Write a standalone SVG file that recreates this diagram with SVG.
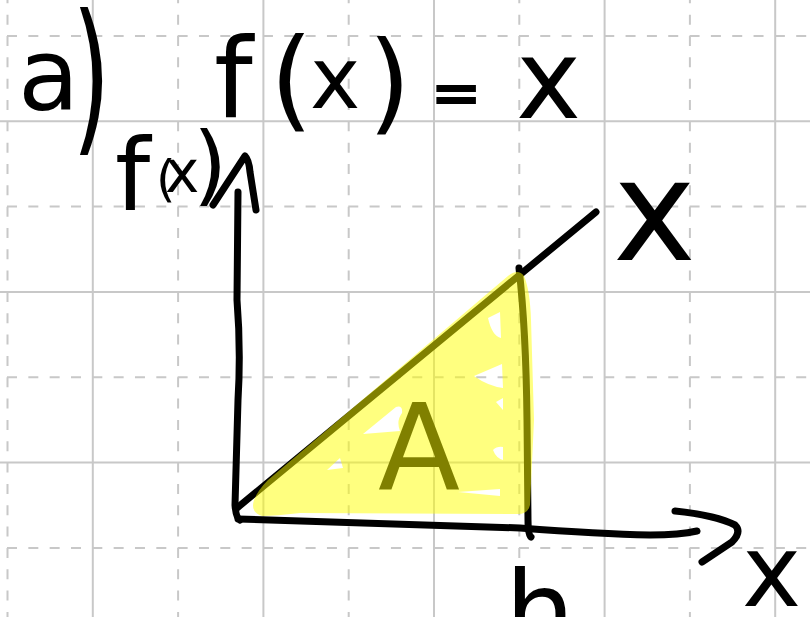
<svg xmlns="http://www.w3.org/2000/svg" width="810" height="617" viewBox="0 0 810 617">
<style>
.gs{stroke:#c8c8c8;stroke-width:2;fill:none}
.gdv{stroke:#c8c8c8;stroke-width:2;fill:none;stroke-dasharray:10 11.33;stroke-dashoffset:6.67}
.gdh{stroke:#c8c8c8;stroke-width:2;fill:none;stroke-dasharray:10 11.33;stroke-dashoffset:14.33}
.ink{stroke:#000;stroke-width:7;fill:none;stroke-linecap:round;stroke-linejoin:round}
.hw{font-family:"DejaVu Sans","Liberation Sans",sans-serif;fill:#000}
.hl{fill:#ffff00;fill-opacity:0.5;fill-rule:evenodd}
</style>
<rect width="810" height="617" fill="#fff"/>
<g id="grid">
<path class="gs" d="M92.8,0V617M263.4,0V617M434,0V617M604.6,0V617M775.2,0V617M0,121.3H810M0,292H810M0,462.6H810"/>
<path class="gdv" d="M7.5,0V617M178.1,0V617M348.7,0V617M519.3,0V617M689.9,0V617"/>
<path class="gdh" d="M0,36H810M0,206.6H810M0,377.3H810M0,548H810"/>
</g>
<g id="under-highlight">
<path class="ink" d="M237,508 L596,212"/>
<path class="ink" d="M519,268 Q526,330 527,420 L528,520 Q528,535 531,537"/>
<text id="label-A" class="hw" x="378" y="489" font-size="120">A</text>
</g>
<path id="highlight" class="hl" d="M262,516 Q250,512 254,500 Q258,490 268,480 L508,276 Q518,268 524,276 Q530,290 531,320 L534,420 L530,505 Q528,514 518,514 L300,513 Q275,516 262,516 Z
M488,318 L500,312 L501,338 Q492,336 488,318 Z
M474,376 L502,364 L503,388 Q488,386 474,376 Z
M496,402 L503,398 L503,410 Z
M493,450 Q497,446 503,447 L503,460 Q496,458 493,450 Z
M458,492 L500,489 L500,496 Z
M363,434 L396,407 Q403,405 402,413 Q396,421 400,431 Z
M327,470 L340,458 L343,468 Z"/>
<g id="axes">
<path class="ink" d="M238,192 L237,300 Q241,350 238,400 L235,505 Q236,518 240,520"/>
<path class="ink" d="M213,205 L245,156 Q249,160 250,172 L256,210"/>
<path class="ink" d="M238,519 L520,528 Q600,534 650,535 Q680,535 697,531"/>
<path class="ink" d="M675,511 Q715,515 735,525 Q742,532 732,542 L702,562"/>
</g>
<g id="labels">
<g id="label-a">
<text class="hw" x="18" y="110" font-size="100">a</text>
<text class="hw" font-size="165" transform="translate(72,133) scale(0.6,1)">)</text>
</g>
<text id="title" class="hw" font-size="110"><tspan x="214" y="117">f</tspan><tspan x="270" y="117">(</tspan><tspan x="310" y="108" font-size="85">x</tspan><tspan x="368" y="120">)</tspan> <tspan x="431" y="113" font-size="60" stroke="#000" stroke-width="2">=</tspan> <tspan x="516" y="118">x</tspan></text>
<text id="label-fx" class="hw"><tspan x="115" y="210" font-size="100">f</tspan><tspan x="156" y="196" font-size="50">(</tspan><tspan x="165" y="192" font-size="58">x</tspan><tspan x="193" y="194" font-size="88">)</tspan></text>
<text id="label-line-x" class="hw" x="613" y="260" font-size="140">x</text>
<text id="label-h" class="hw" x="505" y="650" font-size="110">h</text>
<text id="label-axis-x" class="hw" x="742" y="606" font-size="100">x</text>
</g>
</svg>
